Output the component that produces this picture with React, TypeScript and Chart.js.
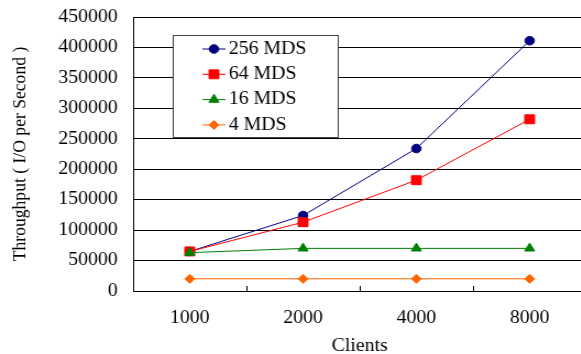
import React, { useEffect, useRef } from 'react';
import { Chart, registerables } from 'chart.js';
import { drawPoint } from 'chart.js/helpers';

Chart.register(...registerables);

const clients = ['1000', '2000', '4000', '8000'];
const seriesNames = ['256 MDS', '64 MDS', '16 MDS', '4 MDS'];
const mds256 = [65000, 124000, 234000, 411000];
const mds64 = [65000, 113000, 182000, 282000];
const mds16 = [63000, 70000, 70000, 70000];
const mds4 = [20000, 20000, 20000, 20000];
const yMin = 0;
const yMax = 450000;
const yStep = 50000;
const xTitle = 'Clients';
const yTitle = 'Throughput ( I/O per Second )';

const SERIF = '"Liberation Serif", "Times New Roman", serif';

const boxLegend = {
  id: 'boxLegend',
  afterDraw(chart: any) {
    const { ctx, chartArea } = chart;
    const left = Math.round(chartArea.left + 36);
    const top = Math.round(chartArea.top + 18);
    const w = 150;
    const h = 102;
    ctx.save();
    ctx.fillStyle = '#ffffff';
    ctx.fillRect(left, top, w, h);
    ctx.strokeStyle = '#444444';
    ctx.lineWidth = 1;
    ctx.strokeRect(left + 0.5, top + 0.5, w, h);
    chart.data.datasets.forEach((ds: any, i: number) => {
      const y = top + 14 + i * 25.3;
      ctx.strokeStyle = ds.borderColor;
      ctx.fillStyle = ds.backgroundColor;
      ctx.lineWidth = 1;
      ctx.beginPath();
      ctx.moveTo(left + 27, y);
      ctx.lineTo(left + 48, y);
      ctx.stroke();
      drawPoint(ctx, { pointStyle: ds.pointStyle, radius: ds.pointRadius, borderWidth: 1, rotation: 0 } as any, left + 37.5, y);
      ctx.fillStyle = '#000000';
      ctx.font = '18px ' + SERIF;
      ctx.textBaseline = 'middle';
      ctx.textAlign = 'left';
      ctx.fillText(ds.label, left + 51, y);
    });
    ctx.restore();
  },
};

const innerXTicks = {
  id: 'innerXTicks',
  afterDraw(chart: any) {
    const { ctx, chartArea } = chart;
    const xs = chart.scales.x;
    const n = xs.ticks.length;
    ctx.save();
    ctx.strokeStyle = '#000000';
    ctx.lineWidth = 1;
    for (let i = 0; i < n - 1; i++) {
      const px = Math.round((xs.getPixelForTick(i) + xs.getPixelForTick(i + 1)) / 2) + 0.5;
      ctx.beginPath();
      ctx.moveTo(px, chartArea.bottom);
      ctx.lineTo(px, chartArea.bottom - 5);
      ctx.stroke();
    }
    ctx.restore();
  },
};

export default function App() {
  const ref = useRef<HTMLCanvasElement | null>(null);

  useEffect(() => {
    if (!ref.current) return;
    const mk = (label: string, data: number[], color: string, style: string, r: number, order: number) => ({
      label,
      data,
      borderColor: color,
      backgroundColor: color,
      borderWidth: 1,
      pointStyle: style,
      pointRadius: r,
      pointHoverRadius: r,
      pointBorderWidth: 1,
      pointBackgroundColor: color,
      pointBorderColor: color,
      tension: 0,
      order,
    });
    const chart = new Chart(ref.current, {
      type: 'line',
      data: {
        labels: clients,
        datasets: [
          mk(seriesNames[0], mds256, '#000080', 'circle', 4.3, 4),
          mk(seriesNames[1], mds64, '#ff0000', 'rect', 6.3, 3),
          mk(seriesNames[2], mds16, '#008000', 'triangle', 5.3, 2),
          mk(seriesNames[3], mds4, '#ff6600', 'rectRot', 4.5, 1),
        ] as any,
      },
      options: {
        animation: false,
        responsive: false,
        devicePixelRatio: 1,
        layout: { autoPadding: false, padding: { top: 17, right: 0, bottom: 0, left: 0 } },
        plugins: {
          legend: { display: false },
          tooltip: { enabled: false },
        },
        scales: {
          x: {
            type: 'category',
            offset: true,
            grid: { display: false, drawTicks: false },
            border: { display: true, color: '#000000', width: 1 },
            ticks: {
              color: '#000000',
              padding: 16,
              font: { family: SERIF, size: 18 },
              maxRotation: 0,
            },
            title: {
              display: true,
              text: xTitle,
              color: '#000000',
              font: { family: SERIF, size: 18, lineHeight: 1 },
              padding: { top: 0, bottom: -1 },
            },
            afterFit(scale: any) {
              scale.height = 63;
              scale.paddingLeft = 0;
              scale.paddingRight = 0;
              scale.paddingTop = 0;
              scale.paddingBottom = 0;
            },
          },
          y: {
            min: yMin,
            max: yMax,
            grid: { color: '#000000', lineWidth: 1, drawTicks: false },
            border: { display: true, color: '#000000', width: 1 },
            ticks: {
              stepSize: yStep,
              color: '#000000',
              padding: 14,
              font: { family: SERIF, size: 18 },
              callback: (v: any) => String(v),
            },
            title: {
              display: true,
              text: yTitle,
              color: '#000000',
              font: { family: SERIF, size: 17.6 },
              padding: { top: 7.5, bottom: 0 },
            },
            afterFit(scale: any) {
              scale.width = 121;
              scale.paddingLeft = 0;
              scale.paddingRight = 0;
              scale.paddingTop = 0;
              scale.paddingBottom = 0;
            },
          },
        },
      } as any,
      plugins: [innerXTicks, boxLegend],
    });
    return () => chart.destroy();
  }, []);

  return (
    <div style={{ position: 'fixed', left: 0, top: 0, width: 581, height: 354, overflow: 'hidden', background: '#ffffff' }}>
      <div style={{ transform: 'scaleX(1.1)', transformOrigin: '0 0', width: 533, height: 354 }}>
        <canvas ref={ref} width={533} height={354} style={{ display: 'block', width: 533, height: 354 }} />
      </div>
    </div>
  );
}
